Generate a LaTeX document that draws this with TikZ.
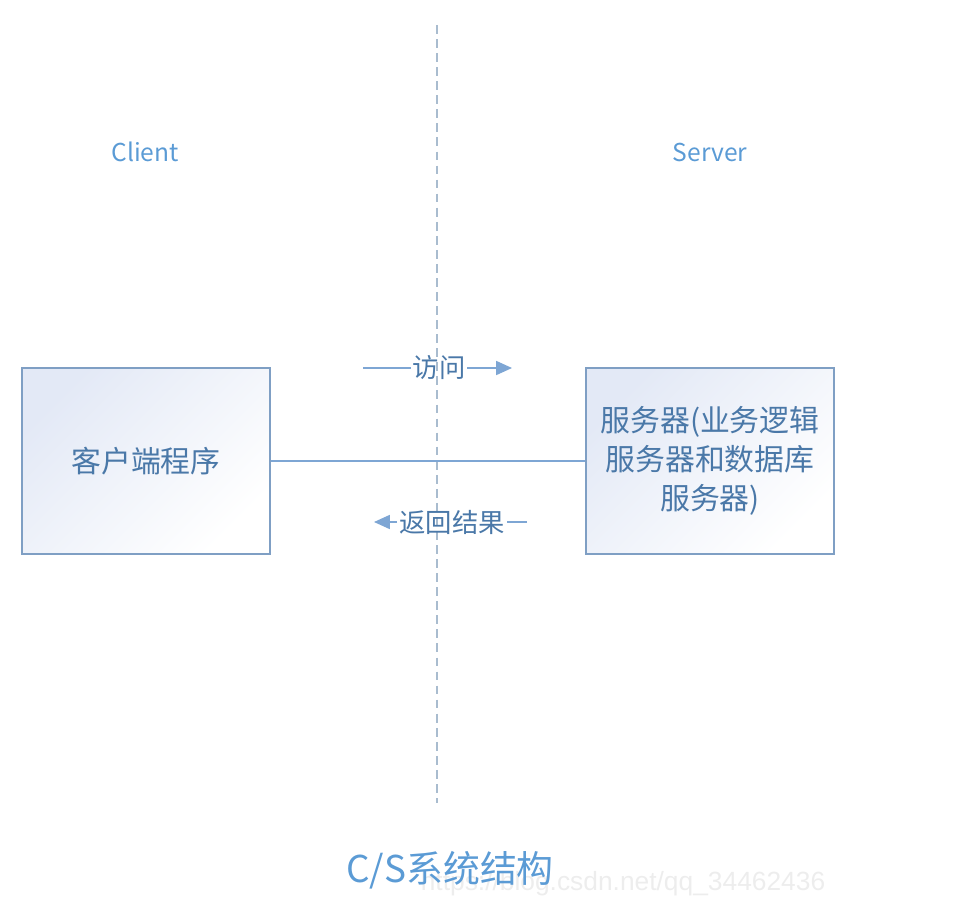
\documentclass[tikz,border=0pt]{standalone}
\usepackage{fontspec}
\setmainfont{Noto Sans CJK SC}
\newfontfamily\markfont{Liberation Sans}
\usepackage{xcolor}
\definecolor{sideblue}{HTML}{5B9BD5}
\definecolor{textblue}{HTML}{4A78A8}
\definecolor{edgeblue}{HTML}{7EA6D4}
\definecolor{frameblue}{HTML}{7F9FC4}
\definecolor{shadeblue}{HTML}{E3E9F6}
\definecolor{splitgray}{HTML}{A9BCCF}
\usetikzlibrary{arrows.meta,positioning}
\tikzset{
  >={Triangle[length=9pt,width=8pt]},
  side/.style={font=\fontsize{14}{16}\selectfont,text=sideblue},
  program/.style={rectangle,draw=frameblue,line width=1.2pt,minimum width=4.96cm,minimum height=3.72cm,
    left color=shadeblue,right color=white,shading angle=45,
    font=\fontsize{17}{22}\selectfont,text=textblue,align=center},
  link/.style={draw=edgeblue,line width=0.7pt},
  flow/.style={link,->,color=edgeblue},
  msg/.style={inner sep=1pt,font=\fontsize{15}{18}\selectfont,text=textblue},
  split/.style={draw=splitgray,line width=1.6pt,dash pattern=on 5pt off 3pt}
}

\begin{document}
\begin{tikzpicture}[x=0.02cm,y=-0.02cm]
  \useasboundingbox (0,0) rectangle (979,919);

  \draw[split] (437,25) -- (437,803);

  \node[side] (client) at (145,152) {Client};
  \node[side] (server) at (710,152) {Server};

  \node[program] (app) at (146,461) {客户端程序};
  \node[program] (srv) at (710,461) {服务器(业务逻辑\\服务器和数据库\\服务器)};
  \draw[link] (app) -- (srv);

  % request / response
  \node[msg] (visit) at (439,368) {访问};
  \coordinate (visitA) at (363,368);
  \coordinate (visitB) at (512,368);
  \draw[link] (visitA) -- (visit);
  \draw[flow] (visit) -- (visitB);

  \node[msg] (reply) at (452,522) {返回结果};
  \coordinate (replyA) at (527,522);
  \coordinate (replyB) at (374,522);
  \draw[link] (replyA) -- (reply);
  \draw[flow] (reply) -- (replyB);

  \node[font=\markfont\fontsize{15}{17}\selectfont,text=black!7] (mark) at (623,884) {https://blog.csdn.net/qq\_34462436};
  \node[font=\fontsize{21}{24}\selectfont,text=sideblue] (title) at (450,870) {C/S系统结构};
\end{tikzpicture}
\end{document}
